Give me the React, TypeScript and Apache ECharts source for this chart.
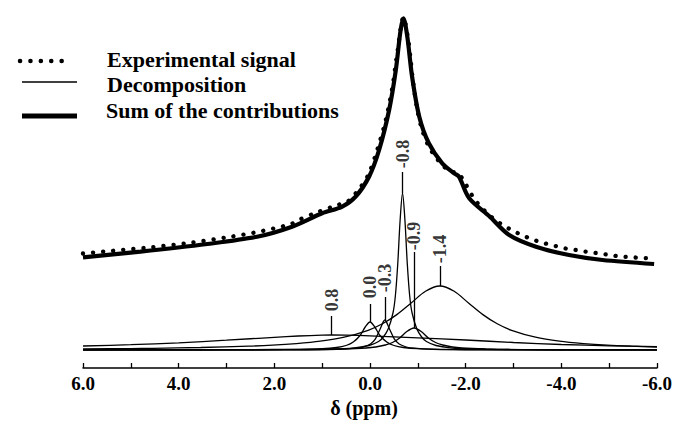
import React, { useEffect, useRef } from 'react';
import * as echarts from 'echarts';

// chemical shift δ (ppm) vs intensity (arbitrary units, baseline = 0)
const experimentalSignal: number[][] = [
  [6.0, 96.5], [5.42, 99], [4.58, 102.7], [3.74, 107.3], [2.91, 113.3], [2.28, 118.7],
  [1.65, 126], [1.49, 130], [1.07, 138.3], [0.68, 145], [0.47, 148.3], [0.19, 163.3],
  [0.02, 176.7], [-0.15, 200], [-0.33, 230], [-0.47, 263.3], [-0.57, 297], [-0.7, 332.7],
  [-0.8, 310], [-0.85, 290], [-0.9, 268.3], [-0.99, 240], [-1.09, 220], [-1.23, 203.3],
  [-1.37, 193.3], [-1.51, 185], [-1.69, 178.3], [-1.83, 177.3], [-1.97, 168.3], [-2.14, 154],
  [-2.28, 145], [-2.43, 137.7], [-2.59, 131], [-2.77, 125], [-2.96, 120], [-3.14, 115.7],
  [-3.34, 111.7], [-3.54, 108.3], [-3.73, 105.7], [-3.94, 103.3], [-4.14, 101], [-4.35, 99.7],
  [-4.56, 98], [-4.77, 96.7], [-4.98, 95.3], [-5.19, 93.7], [-5.4, 93], [-5.61, 92.3], [-5.82, 91.7],
];

const sumOfContributions: number[][] = [
  [6.0, 92.7], [4.8, 98.3], [3.4, 106], [2.36, 113.3], [1.63, 123.3], [1.0, 136.7],
  [0.58, 143.3], [0.3, 153.3], [0.02, 173.3], [-0.19, 200], [-0.4, 240], [-0.54, 280],
  [-0.64, 320], [-0.7, 331.7], [-0.78, 313.3], [-0.88, 273.3], [-1.03, 233.3], [-1.23, 206.7],
  [-1.51, 186.7], [-1.76, 176.7], [-1.86, 173.3], [-2.07, 152], [-2.49, 134], [-2.91, 115],
  [-3.47, 103.3], [-4.16, 95], [-4.86, 90], [-5.94, 86],
];

const peak08: number[][] = [
  [6, 4], [5, 5.3], [4, 7.2], [3, 9.8], [2, 12.7], [1.5, 14], [1, 14.8], [0.8, 15], [0.5, 14.8],
  [0, 14.2], [-0.5, 13.2], [-1, 12.2], [-2, 10], [-3, 7.5], [-4, 5.5], [-5, 4.2], [-6, 3.3],
];

const peak00: number[][] = [
  [6, 0.1], [4, 0.2], [3, 0.3], [2, 0.5], [1.5, 0.7], [1, 1.3], [0.7, 2.5], [0.5, 4.5], [0.35, 7.9],
  [0.2, 15], [0.1, 23], [0, 28], [-0.1, 23], [-0.2, 15], [-0.35, 7.9], [-0.5, 4.5], [-0.7, 2.5],
  [-1, 1.3], [-1.5, 0.7], [-2, 0.5], [-3, 0.3], [-4, 0.2], [-6, 0.1],
];

const peakM03: number[][] = [
  [6, 0.05], [3, 0.1], [1.7, 0.2], [0.7, 0.7], [0.29, 1.8], [0.14, 3], [-0.01, 6], [-0.11, 10.8],
  [-0.21, 20.8], [-0.31, 30], [-0.41, 20.8], [-0.51, 10.8], [-0.61, 6], [-0.76, 3], [-0.91, 1.8],
  [-1.31, 0.7], [-2.31, 0.2], [-4, 0.1], [-6, 0.05],
];

const peakM08: number[][] = [
  [6, 0.1], [3.32, 0.15], [1.82, 0.4], [0.82, 1], [0.32, 2.2], [0.02, 4.5], [-0.18, 8.5],
  [-0.28, 13], [-0.38, 21], [-0.48, 37], [-0.53, 54], [-0.58, 86], [-0.63, 130], [-0.68, 157],
  [-0.73, 130], [-0.78, 86], [-0.83, 54], [-0.88, 37], [-0.98, 21], [-1.08, 13], [-1.18, 8.5],
  [-1.38, 4.5], [-1.68, 2.2], [-2.18, 1], [-3.18, 0.4], [-4.68, 0.15], [-6, 0.1],
];

const peakM09: number[][] = [
  [6, 0.1], [3, 0.2], [1.08, 0.5], [0.58, 1], [0.08, 2], [-0.12, 3], [-0.32, 5], [-0.47, 7.5],
  [-0.62, 12], [-0.77, 18.5], [-0.92, 22], [-1.07, 18.5], [-1.22, 12], [-1.37, 7.5], [-1.52, 5],
  [-1.72, 3], [-1.92, 2], [-2.42, 1], [-2.92, 0.5], [-3.92, 0.25], [-6, 0.1],
];

const peakM14: number[][] = [
  [6, 1.1], [5, 1.4], [4.54, 1.7], [3.54, 2.5], [2.54, 3.8], [2.04, 4.8], [1.54, 6.4], [1.04, 8.8],
  [0.54, 12.8], [0.04, 19.7], [-0.26, 26.2], [-0.56, 35.4], [-0.86, 47], [-1.16, 58.7], [-1.46, 64],
  [-1.76, 58.7], [-2.06, 47], [-2.36, 35.4], [-2.66, 26.2], [-2.96, 19.7], [-3.46, 12.8],
  [-3.96, 8.8], [-4.46, 6.4], [-4.96, 4.8], [-5.46, 3.8], [-6, 3.0],
];

// peak annotations
const peakLabels = ['0.8', '0.0', '-0.3', '-0.8', '-0.9', '-1.4'];
const peakShifts = [0.8, 0.0, -0.31, -0.68, -0.92, -1.46];
const peakHeights = [15, 28, 30, 157, 22, 64];
const labelLineTops = [34, 46, 53, 178, 98, 84];
const labelCenters = [50, 63, 72, 196, 114, 101];

const legendItems = ['Experimental signal', 'Decomposition', 'Sum of the contributions'];

const SERIF = "'Liberation Serif', 'Times New Roman', Times, serif";

export default function App() {
  const ref = useRef<HTMLDivElement>(null);

  useEffect(() => {
    if (!ref.current) return;
    const chart = echarts.init(ref.current, null, { renderer: 'svg' });

    const thin = (name: string, data: number[][]) => ({
      name,
      type: 'line',
      data,
      symbol: 'none',
      smooth: 0.3,
      silent: true,
      z: 2,
      lineStyle: { color: '#000', width: 1.3 },
    });

    const legendText = (text: string, x: number, y: number) => ({
      type: 'text',
      x,
      y,
      style: {
        text,
        fill: '#000',
        font: `bold 22px ${SERIF}`,
        verticalAlign: 'middle',
        align: 'left',
      },
    });

    chart.setOption({
      animation: false,
      backgroundColor: '#fff',
      grid: { left: 83, right: 16, top: 0, bottom: 53, containLabel: false, outerBoundsMode: 'none' },
      xAxis: {
        type: 'value',
        min: -6,
        max: 6,
        interval: 1,
        inverse: true,
        axisLine: { show: true, onZero: false, lineStyle: { color: '#000', width: 1.5 } },
        axisTick: { show: true, inside: true, length: 5, lineStyle: { color: '#000', width: 1.3 } },
        splitLine: { show: false },
        axisLabel: {
          margin: 6,
          color: '#000',
          fontFamily: SERIF,
          fontWeight: 'bold',
          fontSize: 19,
          showMinLabel: true,
          showMaxLabel: true,
          formatter: (v: number) => (Math.round(v) % 2 === 0 ? v.toFixed(1) : ''),
        },
        name: 'δ (ppm)',
        nameLocation: 'middle',
        nameGap: 28,
        nameTextStyle: {
          color: '#000',
          fontFamily: SERIF,
          fontWeight: 'bold',
          fontSize: 20,
          padding: [0, 12, 0, 0],
        },
      },
      yAxis: { type: 'value', min: -18, max: 350, show: false },
      graphic: [
        {
          type: 'line',
          shape: { x1: 20, y1: 61, x2: 72, y2: 61 },
          style: { stroke: '#000', lineWidth: 4.5, lineDash: [0.1, 10.3], lineCap: 'round' },
        },
        {
          type: 'line',
          shape: { x1: 22, y1: 82, x2: 77, y2: 82 },
          style: { stroke: '#000', lineWidth: 1.5 },
        },
        {
          type: 'line',
          shape: { x1: 22, y1: 116, x2: 77, y2: 116 },
          style: { stroke: '#000', lineWidth: 5 },
        },
        legendText(legendItems[0], 107, 59),
        legendText(legendItems[1], 107, 84.6),
        legendText(legendItems[2], 106, 110.6),
      ],
      series: [
        thin('0.8', peak08),
        thin('0.0', peak00),
        thin('-0.3', peakM03),
        thin('-0.8', peakM08),
        thin('-0.9', peakM09),
        thin('-1.4', peakM14),
        {
          name: 'Sum of the contributions',
          type: 'line',
          data: sumOfContributions,
          symbol: 'none',
          smooth: 0.3,
          silent: true,
          z: 3,
          lineStyle: { color: '#000', width: 4.2 },
        },
        {
          name: 'Experimental signal',
          type: 'line',
          data: experimentalSignal,
          symbol: 'none',
          smooth: 0.3,
          silent: true,
          z: 4,
          lineStyle: { color: '#000', width: 4.3, type: [0.1, 10], cap: 'round' },
        },
        {
          name: 'peak labels',
          type: 'scatter',
          silent: true,
          z: 5,
          symbolSize: 1,
          itemStyle: { color: 'rgba(0,0,0,0)' },
          data: peakShifts.map((s, i) => ({ value: [s, labelCenters[i]], name: peakLabels[i] })),
          label: {
            show: true,
            position: 'inside',
            rotate: 90,
            formatter: (p: any) => p.name,
            color: '#000',
            fontFamily: SERIF,
            fontWeight: 'bold',
            fontSize: 18,
          },
          markLine: {
            silent: true,
            symbol: ['none', 'none'],
            label: { show: false },
            lineStyle: { color: '#000', width: 1.3, type: 'solid' },
            data: peakShifts.map((s, i) => [
              { coord: [s, peakHeights[i]] },
              { coord: [s, labelLineTops[i]] },
            ]),
          },
        },
      ],
    });

    return () => chart.dispose();
  }, []);

  return (
    <div
      ref={ref}
      style={{ position: 'fixed', left: 0, top: 0, width: 673, height: 421, background: '#fff' }}
    />
  );
}
